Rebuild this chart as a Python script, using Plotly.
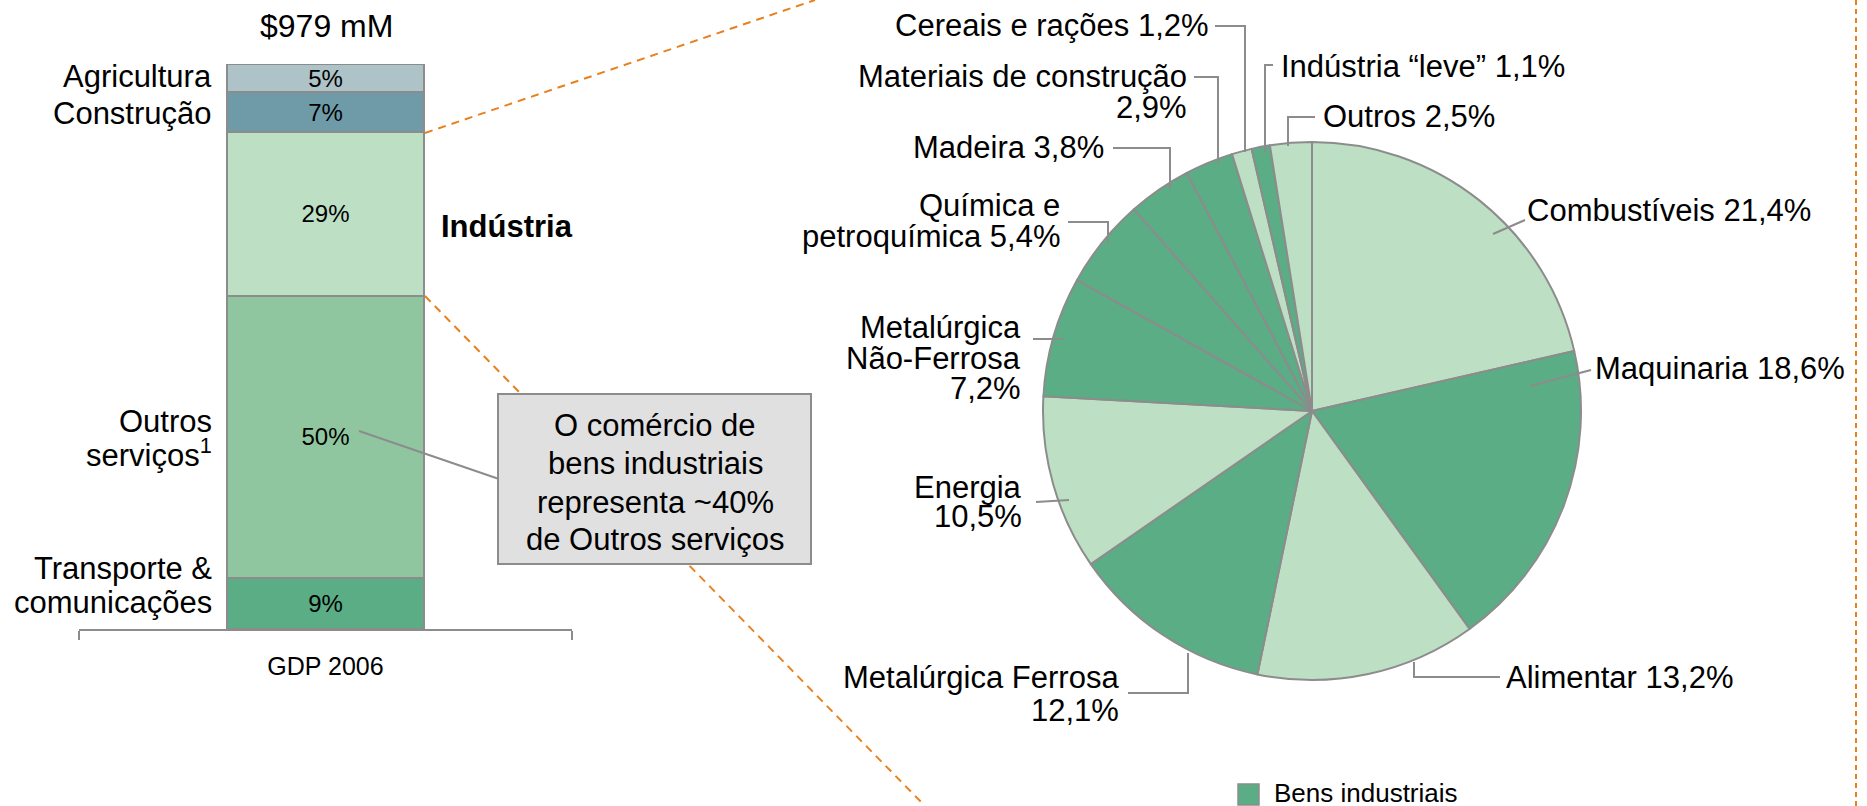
import plotly.graph_objects as go

W, H = 1867, 806

# ---------------- data ----------------
gdp_title = "$979 mM"
bar_x_label = "GDP 2006"
bar_categories = ["Agricultura", "Construção", "Indústria", "Outros serviços", "Transporte & comunicações"]
bar_values = [5, 7, 29, 50, 9]

pie_labels = ["Combustíveis", "Maquinaria", "Alimentar", "Metalúrgica Ferrosa", "Energia",
              "Metalúrgica Não-Ferrosa", "Química e petroquímica", "Madeira",
              "Materiais de construção", "Cereais e rações", "Indústria “leve”", "Outros"]
pie_values = [21.4, 18.6, 13.2, 12.1, 10.5, 7.2, 5.4, 3.8, 2.9, 1.2, 1.1, 2.5]
pie_industrial = [False, True, False, True, False, True, True, True, True, False, True, False]
legend_label = "Bens industriais"
callout_lines = ["O comércio de", "bens industriais", "representa ~40%", "de Outros serviços"]

# ---------------- styles ----------------
FONT = "Liberation Sans, Arial, sans-serif"
GRAY = "#8c8c8c"
ORANGE = "#E8801E"
DARK = "#5aad85"
LIGHT = "#bddfc4"
bar_colors = {"Agricultura": "#adc3c8", "Construção": "#6f9ba9", "Indústria": "#bddfc4",
              "Outros serviços": "#8fc6a0", "Transporte & comunicações": "#5aad85"}


def px(x):
    return x / W


def py(y):
    return 1 - y / H


def fmt(v):
    return f"{v:.1f}".replace(".", ",") + "%"


fig = go.Figure()

# stacked bar (bottom segment first)
for cat, val in reversed(list(zip(bar_categories, bar_values))):
    fig.add_trace(go.Bar(
        x=[bar_x_label], y=[val], name=cat, width=0.40,
        marker=dict(color=bar_colors[cat], line=dict(color=GRAY, width=2)),
        text=[f"{val}%"], textposition="inside", insidetextanchor="middle",
        textangle=0, constraintext="none",
        textfont=dict(size=24, color="black", family=FONT),
        showlegend=False, hoverinfo="name+y",
    ))

# pie
cx, cy, R = 1312, 411, 269
fig.add_trace(go.Pie(
    values=pie_values, labels=pie_labels, sort=False, direction="clockwise", rotation=0,
    marker=dict(colors=[DARK if b else LIGHT for b in pie_industrial],
                line=dict(color=GRAY, width=2)),
    textinfo="none", showlegend=False,
    domain=dict(x=[px(cx - R), px(cx + R)], y=[py(cy + R), py(cy - R)]),
))

annotations = []
shapes = []


def text(x, y, s, size=31, anchor="left", bold=False):
    annotations.append(dict(
        x=px(x), y=py(y), xref="paper", yref="paper", text=f"<b>{s}</b>" if bold else s,
        showarrow=False, xanchor=anchor, yanchor="middle",
        font=dict(size=size, color="black", family=FONT)))


def path(points, color=GRAY, width=2, dash=None):
    d = "M " + " L ".join(f"{px(x):.5f},{py(y):.5f}" for x, y in points)
    line = dict(color=color, width=width)
    if dash:
        line["dash"] = dash
    shapes.append(dict(type="path", xref="paper", yref="paper", path=d, line=line))


# orange dashed zoom lines
path([(425, 133), (815, 0)], color=ORANGE, width=2, dash="8px,6px")
path([(425, 296), (925, 806)], color=ORANGE, width=2, dash="8px,6px")
path([(1856, 0), (1856, 806)], color=ORANGE, width=2, dash="5px,4px")

# callout box
path([(359, 431), (499, 479)])
shapes.append(dict(type="rect", xref="paper", yref="paper",
                   x0=px(498), x1=px(811), y0=py(564), y1=py(394),
                   fillcolor="#e0e0e0", line=dict(color=GRAY, width=2)))
for line_txt, yy in zip(callout_lines, [425, 463, 502, 539]):
    text(655, yy, line_txt, anchor="center")

# bar labels
text(326, 26, gdp_title, size=32, anchor="center")
bar_label_pos = {
    "Agricultura": ([("Agricultura", 77)], 214),
    "Construção": ([("Construção", 113)], 214),
    "Outros serviços": ([("Outros", 422), ("serviços<sup>1</sup>", 453)], 214),
    "Transporte & comunicações": ([("Transporte &amp;", 568), ("comunicações", 602)], 214),
}
for cat in bar_categories:
    if cat in bar_label_pos:
        lines, xr = bar_label_pos[cat]
        for s, yy in lines:
            text(xr, yy, s, anchor="right")
text(439, 227, "Indústria", bold=True)

# pie labels: (anchor, x, [(line, y)], leader points)
pie_label_layout = {
    "Combustíveis": ("left", 1525, [("{n} {p}", 210)], [(1493, 234), (1525, 220)]),
    "Maquinaria": ("left", 1593, [("{n} {p}", 368)], [(1530, 386), (1591, 370)]),
    "Alimentar": ("left", 1504, [("{n} {p}", 677)], [(1414, 662), (1414, 677), (1500, 677)]),
    "Metalúrgica Ferrosa": ("right", 1121, [("{n}", 677), ("{p}", 710)],
                            [(1128, 693), (1188, 693), (1188, 653)]),
    "Energia": ("right", 1024, [("{n}", 487), ("{p}", 516)], [(1036, 502), (1069, 500)]),
    "Metalúrgica Não-Ferrosa": ("right", 1023, [("Metalúrgica", 327), ("Não-Ferrosa", 358), ("{p}", 388)],
                                [(1033, 339), (1063, 339)]),
    "Química e petroquímica": ("right", 1062, [("Química e", 205), ("petroquímica {p}", 237)],
                               [(1068, 222), (1108, 222), (1108, 244)]),
    "Madeira": ("right", 1106, [("{n} {p}", 148)], [(1113, 148), (1170, 148), (1170, 189)]),
    "Materiais de construção": ("right", 1189, [("{n}", 77), ("{p}", 108)],
                                [(1194, 77), (1218, 77), (1218, 164)]),
    "Cereais e rações": ("right", 1211, [("{n} {p}", 26)], [(1215, 26), (1245, 26), (1245, 152)]),
    "Indústria “leve”": ("left", 1279, [("{n} {p}", 66)], [(1273, 65), (1265, 65), (1265, 152)]),
    "Outros": ("left", 1321, [("{n} {p}", 116)], [(1315, 117), (1288, 117), (1288, 146)]),
}
for name, val in zip(pie_labels, pie_values):
    anchor, xx, lines, leader = pie_label_layout[name]
    for s, yy in lines:
        text(xx, yy, s.format(n=name, p=fmt(val)), anchor=anchor)
    path(leader)

# legend
shapes.append(dict(type="rect", xref="paper", yref="paper",
                   x0=px(1238), x1=px(1259), y0=py(805), y1=py(784),
                   fillcolor=DARK, line=dict(color=GRAY, width=1.5)))
text(1272, 793, legend_label, size=26)

fig.update_layout(
    width=W, height=H, margin=dict(l=0, r=0, t=0, b=0),
    paper_bgcolor="white", plot_bgcolor="white",
    barmode="stack", showlegend=False,
    font=dict(family=FONT, color="black"),
    xaxis=dict(domain=[px(79), px(572)], type="category", range=[-0.5, 0.5],
               showline=True, linecolor=GRAY, linewidth=2,
               ticks="outside", tickson="boundaries", ticklen=9, tickwidth=2, tickcolor=GRAY,
               tickfont=dict(size=25, color="black", family=FONT), ticklabelstandoff=14,
               showgrid=False, zeroline=False, fixedrange=True),
    yaxis=dict(domain=[py(629), py(64)], range=[0, 100], visible=False, fixedrange=True),
    annotations=annotations, shapes=shapes,
)

fig.write_html("out.html", include_plotlyjs=True, config={"displayModeBar": False},
               post_script="document.body.style.margin='0px';document.body.style.overflow='hidden';")
